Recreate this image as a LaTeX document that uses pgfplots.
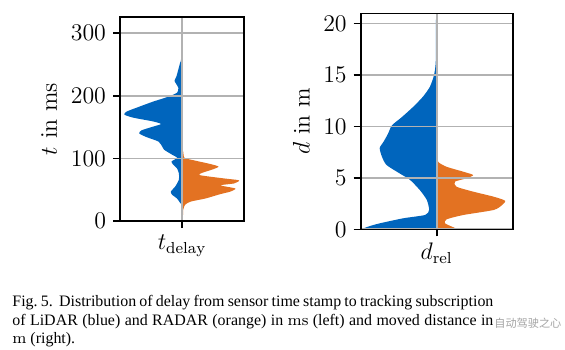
\documentclass[border=0pt]{standalone}
\usepackage{fontspec}
\newfontfamily\capfont{Liberation Serif}
\newfontfamily\cjk{Noto Sans CJK SC}
\usepackage{pgfplots}
\pgfplotsset{compat=1.18}
\definecolor{tumblue}{RGB}{0,101,189}
\definecolor{tumorange}{RGB}{227,114,34}
\pgfplotsset{vstyle/.style={
  scale only axis, xmin=-1, xmax=1, ymin=0,
  xtick={0}, grid=major,
  major grid style={line width=0.9bp, color=black!30},
  axis line style={line width=0.8bp},
  tick style={black, line width=0.8bp},
  tick align=outside, major tick length=3.5bp,
  xtick pos=bottom, ytick pos=left,
  axis on top, anchor=south west,
  tick label style={font=\fontsize{12}{14}\selectfont},
  label style={font=\fontsize{12}{14}\selectfont},
}}
\begin{document}
\begin{tikzpicture}
\useasboundingbox (0,0) rectangle (282.5bp,-175bp);
\begin{axis}[vstyle, at={(60bp,-110.5bp)}, width=62bp, height=102bp,
  ymax=326, ytick={0,100,200,300},
  xticklabels={$t_\mathrm{delay}$}, ylabel={$t$ in $\mathrm{ms}$}]
\addplot[fill=tumblue, draw=none, smooth, tension=0.4] coordinates {
(0,312) (-0.015,312) (-0.015,260) (-0.03,253) (-0.09,231) (-0.12,224) (-0.06,213) (-0.08,205) (-0.24,198) (-0.46,191) (-0.68,183) (-0.89,175) (-0.93,170) (-0.78,165) (-0.46,159) (-0.34,155) (-0.46,151) (-0.65,145) (-0.69,140) (-0.57,134) (-0.38,127) (-0.32,119) (-0.29,114) (-0.16,106) (-0.08,101) (-0.17,95) (-0.14,90) (-0.08,84) (-0.05,76) (-0.05,66) (-0.11,55) (-0.18,47) (-0.16,42) (-0.08,36) (-0.03,29) (0,26)};
\addplot[fill=tumorange, draw=none, smooth, tension=0.4] coordinates {
(0,111) (0.02,111) (0.04,101) (0.19,97) (0.46,91) (0.59,87) (0.51,83) (0.30,76) (0.30,73) (0.68,68) (0.92,65) (0.84,60) (0.62,57) (0.86,52) (0.78,47) (0.62,43) (0.38,36) (0.14,31) (0.05,26) (0.02,18) (0.015,8) (0,8)};
\end{axis}
\begin{axis}[vstyle, at={(180.35bp,-114.65bp)}, width=76bp, height=108bp,
  ymax=21, ytick={0,5,10,15,20},
  xticklabels={$d_\mathrm{rel}$}, ylabel={$d$ in $\mathrm{m}$}]
\addplot[fill=tumblue, draw=none, smooth, tension=0.4] coordinates {
(0,20.2) (-0.012,20.2) (-0.012,16.4) (-0.035,15) (-0.09,13.85) (-0.18,12.9) (-0.31,11.9) (-0.46,10.9) (-0.59,10.1) (-0.64,9.3) (-0.70,8.5) (-0.75,7.9) (-0.72,7.05) (-0.66,6.25) (-0.48,5.4) (-0.35,4.8) (-0.22,3.8) (-0.13,2.85) (-0.10,1.9) (-0.15,1.4) (-0.44,1.07) (-0.75,0.58) (-0.90,0.26) (-0.92,0) (0,0)};
\addplot[fill=tumorange, draw=none, smooth, tension=0.4] coordinates {
(0,7.55) (0.01,7.55) (0.02,6.57) (0.13,6.08) (0.35,5.6) (0.48,5.27) (0.39,4.95) (0.24,4.63) (0.26,4.14) (0.48,3.66) (0.75,3.17) (0.90,2.78) (0.86,2.36) (0.75,1.88) (0.35,1.39) (0.13,0.97) (0.11,0.58) (0.20,0.26) (0.26,0) (0,0)};
\end{axis}
\node[anchor=north west, inner sep=0pt, text width=240.5bp, align=justify,
  font=\capfont\fontsize{8}{9.25}\selectfont] at (6bp,-147.5bp)
  {Fig.~5.\ \ Distribution of delay from sensor time stamp to tracking subscription\linebreak
   of LiDAR (blue) and RADAR (orange) in $\mathrm{ms}$ (left) and moved distance in\linebreak
   $\mathrm{m}$ (right).};
\node[anchor=west, inner sep=0pt, text=black!45, opacity=0.8, font=\cjk\fontsize{5.6}{6}\selectfont]
  at (247bp,-161.5bp) {自动驾驶之心};
\end{tikzpicture}
\end{document}
